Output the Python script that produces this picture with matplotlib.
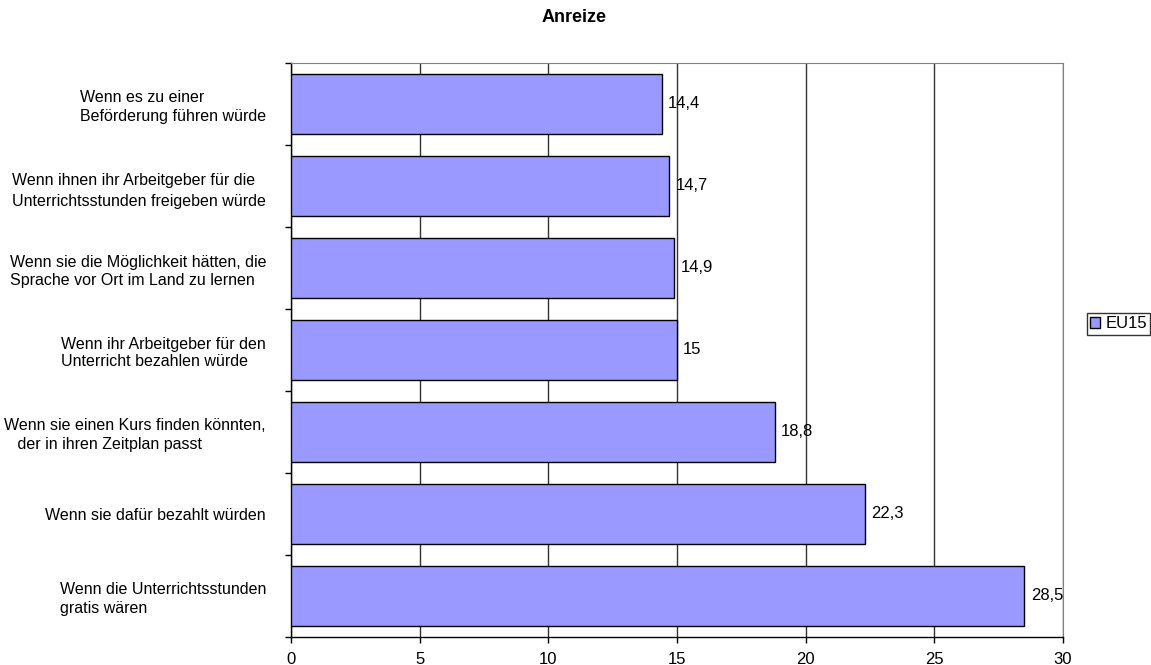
import numpy as np
from matplotlib import pyplot as plt

plt.rcParams['font.family'] = ['Liberation Sans', 'DejaVu Sans']

labels = ['Wenn es zu einer\nBeförderung führen würde',
          'Wenn ihnen ihr Arbeitgeber für die\nUnterrichtsstunden freigeben würde',
          'Wenn sie die Möglichkeit hätten, die\nSprache vor Ort im Land zu lernen',
          'Wenn ihr Arbeitgeber für den\nUnterricht bezahlen würde',
          'Wenn sie einen Kurs finden könnten,\n   der in ihren Zeitplan passt',
          'Wenn sie dafür bezahlt würden',
          'Wenn die Unterrichtsstunden\ngratis wären']
values = [14.4, 14.7, 14.9, 15.0, 18.8, 22.3, 28.5]
xticks = [0, 5, 10, 15, 20, 25, 30]

fig = plt.figure(figsize=(11.51, 6.65), dpi=100)
ax = fig.add_axes([291/1151, 28/665, 772/1151, 574/665])

y = np.arange(len(values))
bars = ax.barh(y, values, height=0.73, color='#9999FF', edgecolor='black',
               linewidth=1, zorder=3, label='EU15')
ax.set_ylim(len(values) - 0.5, -0.5)
ax.set_xlim(0, 30)

for b, v in zip(bars, values):
    txt = ('%.1f' % v).replace('.', ',') if v != int(v) else '%d' % v
    ax.annotate(txt, (v, b.get_y() + b.get_height() / 2), xytext=(4.5, 0),
                textcoords='offset points', va='center', ha='left',
                fontsize=12, zorder=4)

ax.set_xticks(xticks)
ax.set_xticklabels([str(t) for t in xticks], fontsize=12)
ax.set_yticks(np.arange(len(values) + 1) - 0.5)
ax.set_yticklabels([])
ax.set_yticks(y, minor=True)
tl = ax.set_yticklabels(labels, minor=True, fontsize=11.5, ha='right',
                        multialignment='left', linespacing=1.25)
tl[1].set_linespacing(1.55)
ax.tick_params(axis='y', which='minor', length=0, pad=18)
ax.tick_params(axis='y', which='major', length=4, direction='out', width=1)
ax.tick_params(axis='x', length=4, direction='out', width=1, pad=7)

ax.grid(axis='x', color='#333333', linewidth=1, zorder=1)
for s in ['top', 'right']:
    ax.spines[s].set_color('#808080')
ax.spines['left'].set_linewidth(1)
ax.spines['bottom'].set_linewidth(1)

fig.text(574/1151, 1 - 17/665, 'Anreize', ha='center', va='center',
         fontsize=13, fontweight='bold')

fig.legend(loc='center left', bbox_to_anchor=(1087/1151, 1 - 324/665),
           fontsize=12, frameon=True, fancybox=False, edgecolor='black',
           handlelength=0.6, handleheight=0.6, handletextpad=0.3,
           borderpad=0.2, borderaxespad=0)

fig.savefig('out.png', dpi=100)
